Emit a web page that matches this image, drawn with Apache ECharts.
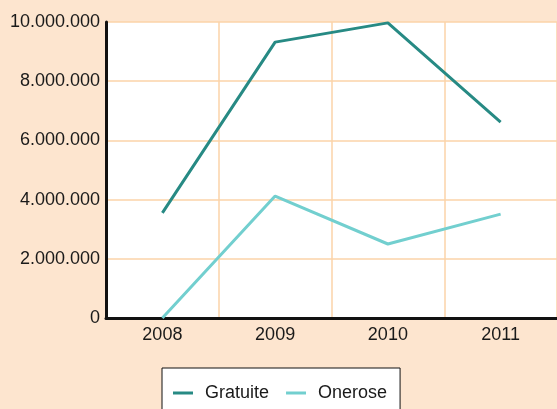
<!DOCTYPE html>
<html><head><meta charset="utf-8">
<script src="https://cdn.jsdelivr.net/npm/echarts@6/dist/echarts.min.js"></script>
<style>html,body{margin:0;padding:0;background:#fde5cf;}#c{width:557px;height:409px;}</style>
</head><body><div id="c"></div>
<script>
const categories = ['2008', '2009', '2010', '2011'];
const gratuite = [3550000, 9320000, 9970000, 6620000];
const onerose = [0, 4120000, 2500000, 3510000];
const yTicks = [0, 2000000, 4000000, 6000000, 8000000, 10000000];

function fmt(v) {
  return String(Math.round(v)).replace(/\B(?=(\d{3})+(?!\d))/g, '.');
}
const FONT = '"Liberation Sans", Arial, sans-serif';
const chart = echarts.init(document.getElementById('c'), null, {renderer: 'canvas'});
chart.setOption({
  backgroundColor: '#fde5cf',
  animation: false,
  grid: {left: 106, right: -2, top: 22, bottom: 91, show: true, backgroundColor: '#ffffff', borderWidth: 0},
  legend: {
    left: 162, top: 368,
    backgroundColor: '#ffffff', borderColor: '#111', borderWidth: 1,
    padding: [16, 13, 14, 11],
    itemWidth: 20, itemHeight: 3, itemGap: 17,
    icon: 'rect',
    textStyle: {fontSize: 18, fontFamily: FONT, color: '#1a1a1a', padding: [0, 0, 0, 7]},
    data: ['Gratuite', 'Onerose']
  },
  xAxis: {
    type: 'category', data: categories, boundaryGap: true,
    axisLine: {lineStyle: {color: '#111', width: 3}},
    axisTick: {show: false},
    axisLabel: {fontSize: 18, fontFamily: FONT, color: '#1a1a1a', margin: 8},
    splitLine: {show: true, lineStyle: {color: '#fbd3a8', width: 1.5}}
  },
  yAxis: {
    type: 'value', min: yTicks[0], max: yTicks[yTicks.length - 1], interval: yTicks[1] - yTicks[0],
    axisLine: {show: true, lineStyle: {color: '#111', width: 3}},
    axisTick: {show: false},
    axisLabel: {fontSize: 18, fontFamily: FONT, color: '#1a1a1a', margin: 6, formatter: fmt},
    splitLine: {show: true, lineStyle: {color: '#fbd3a8', width: 1.5}}
  },
  series: [
    {name: 'Gratuite', type: 'line', data: gratuite, showSymbol: false, symbol: 'none',
     lineStyle: {color: '#278a84', width: 3}, itemStyle: {color: '#278a84'}},
    {name: 'Onerose', type: 'line', data: onerose, showSymbol: false, symbol: 'none',
     lineStyle: {color: '#72cfcf', width: 3}, itemStyle: {color: '#72cfcf'}}
  ]
});
</script></body></html>
